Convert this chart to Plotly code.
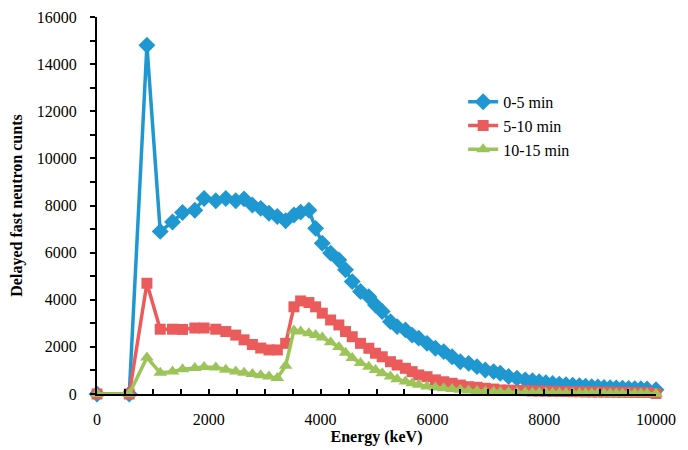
import plotly.graph_objects as go

energy = [0, 577, 893, 1131, 1351, 1530, 1750, 1916, 2125, 2304, 2482, 2631, 2780, 2929, 3077,
          3226, 3375, 3523, 3643, 3791, 3911, 4030, 4179, 4327, 4446, 4566, 4714, 4863, 4982,
          5102, 5250, 5369, 5518, 5637, 5755, 5904, 6054, 6202, 6352, 6500, 6648, 6798, 6946,
          7095, 7214, 7363, 7513, 7661, 7790, 7910, 8030, 8150, 8270, 8390, 8510, 8630, 8740,
          8850, 8960, 9070, 9180, 9290, 9400, 9510, 9620, 9730, 9840, 10000]

counts_0_5 = [0, 0, 14800, 6900, 7300, 7700, 7800, 8300, 8200, 8300, 8200, 8280, 8020, 7880, 7670,
              7530, 7350, 7600, 7720, 7800, 7030, 6400, 5980, 5690, 5270, 4770, 4350, 4130, 3780,
              3500, 3070, 2860, 2720, 2500, 2370, 2150, 1940, 1800, 1580, 1370, 1300, 1160, 1020,
              950, 880, 740, 670, 600, 560, 520, 480, 450, 420, 390, 370, 350, 330,
              310, 300, 280, 270, 260, 250, 240, 230, 220, 210, 180]

counts_5_10 = [0, 0, 4700, 2750, 2750, 2740, 2800, 2800, 2750, 2650, 2500, 2300, 2100, 1950, 1870,
               1870, 2150, 3700, 3950, 3880, 3700, 3430, 3140, 2930, 2650, 2430, 2150, 1940, 1730,
               1580, 1370, 1230, 1090, 950, 810, 735, 600, 520, 455, 380, 310, 285, 240,
               210, 170, 165, 150, 140, 130, 125, 120, 115, 110, 105, 100, 95, 90,
               88, 85, 82, 80, 78, 75, 72, 70, 68, 65, 20]

counts_10_15 = [0, 0, 1550, 900, 950, 1050, 1100, 1150, 1120, 1030, 950, 900, 850, 800, 740,
                680, 1200, 2700, 2650, 2580, 2500, 2400, 2200, 2000, 1750, 1530, 1320, 1160, 1020,
                880, 740, 630, 530, 460, 390, 320, 280, 240, 210, 180, 150, 130, 110,
                95, 85, 75, 65, 60, 56, 52, 48, 45, 42, 40, 38, 36, 34,
                32, 30, 28, 26, 25, 24, 23, 22, 21, 20, 10]

series_names = ["0-5 min", "5-10 min", "10-15 min"]
series_values = [counts_0_5, counts_5_10, counts_10_15]
colors = ["#1f97d0", "#ec5b5b", "#9cc459"]
symbols = ["diamond", "square", "triangle-up"]
sizes = [13, 11, 12]

font_family = "Liberation Serif"

fig = go.Figure()
for name, vals, c, s, sz in zip(series_names, series_values, colors, symbols, sizes):
    fig.add_trace(go.Scatter(
        x=energy, y=vals, name=name, mode="lines+markers",
        line=dict(color=c, width=3.5),
        marker=dict(symbol=s, size=sz, color=c),
        cliponaxis=False,
    ))

fig.update_layout(
    width=688, height=450,
    margin=dict(l=97, r=32, t=17, b=56),
    paper_bgcolor="white", plot_bgcolor="white",
    font=dict(family=font_family, size=16, color="black"),
    showlegend=True,
    legend=dict(
        x=0.655, y=0.82, xanchor="left", yanchor="top",
        bgcolor="rgba(0,0,0,0)", font=dict(size=16, family=font_family),
        tracegroupgap=0, itemwidth=30,
    ),
    xaxis=dict(
        range=[0, 10000], dtick=2000, tick0=0, tickformat="d", automargin=False,
        showline=True, linecolor="black", linewidth=2,
        ticks="inside", ticklen=5, tickwidth=2, tickcolor="black",
        minor=dict(dtick=500, ticks="inside", ticklen=5, tickwidth=2, tickcolor="black"),
        showgrid=False, zeroline=False, ticklabelstandoff=10,
        title=dict(text="<b>Energy (keV)</b>", font=dict(size=16, family=font_family), standoff=4),
        tickfont=dict(size=16, family=font_family),
    ),
    yaxis=dict(
        range=[0, 16000], dtick=2000, tick0=0, tickformat="d", automargin=False,
        showline=True, linecolor="black", linewidth=2,
        ticks="outside", ticklen=5, tickwidth=2, tickcolor="black",
        minor=dict(dtick=1000, ticks="outside", ticklen=5, tickwidth=2, tickcolor="black"),
        showgrid=False, zeroline=False, ticklabelstandoff=10,
        title=dict(text="<b>Delayed fast neutron cunts</b>", font=dict(size=16, family=font_family), standoff=10),
        tickfont=dict(size=16, family=font_family),
    ),
)

fig.write_html("out.html")
